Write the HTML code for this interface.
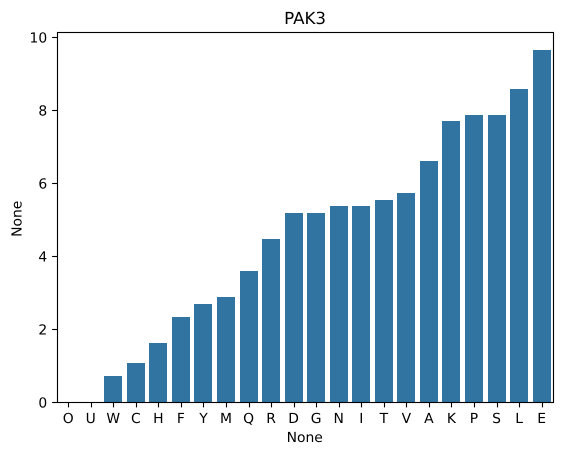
<!DOCTYPE html>
<html>
<head>
<meta charset="utf-8">
<title>PAK3</title>
<style>
html,body{margin:0;padding:0;background:#fff;width:562px;height:455px;overflow:hidden}
svg{display:block}
text{font-family:"DejaVu Sans",sans-serif;fill:#000;text-rendering:geometricPrecision}
</style>
</head>
<body>
<svg id="chart" xmlns="http://www.w3.org/2000/svg" width="562" height="455" viewBox="0 0 562 455">
  <rect x="0" y="0" width="562" height="455" fill="#fff"/>
  <g id="bars"></g>
  <g id="x-ticks"></g>
  <g id="y-ticks"></g>
  <rect x="57.5" y="32.5" width="496" height="370" fill="none" stroke="#000" stroke-width="1.11"/>
  <text x="305.1" y="24" text-anchor="middle" font-size="16.67">PAK3</text>
  <text x="304.7" y="442" text-anchor="middle" font-size="13.89">None</text>
  <text x="0" y="0" transform="translate(21.3 218.8) rotate(-90)" text-anchor="middle" font-size="13.89">None</text>
</svg>
<script>
const categories = ["O","U","W","C","H","F","Y","M","Q","R","D","G","N","I","T","V","A","K","P","S","L","E"];
const values = [0,0,0.71,1.07,1.62,2.33,2.69,2.88,3.59,4.47,5.18,5.18,5.37,5.37,5.54,5.73,6.6,7.7,7.87,7.87,8.58,9.65];
const yTicks = [0,2,4,6,8,10];

const NS = "http://www.w3.org/2000/svg";
const plotLeft = 56.9, plotWidth = 496, plotBottom = 402, plotHeight = 369.6;
const yMax = Math.max(...values) * 1.05;
const xScale = i => plotLeft + (i + 0.5) * plotWidth / categories.length;
const yScale = v => plotBottom - v / yMax * plotHeight;
const barWidth = 0.8 * plotWidth / categories.length;

function make(tag, attrs, parent) {
  const el = document.createElementNS(NS, tag);
  for (const k in attrs) el.setAttribute(k, attrs[k]);
  parent.appendChild(el);
  return el;
}

const barsG = document.getElementById("bars");
const xG = document.getElementById("x-ticks");
const yG = document.getElementById("y-ticks");

categories.forEach((c, i) => {
  const top = Math.round(yScale(values[i]));
  const left = Math.round(xScale(i) - barWidth / 2);
  const right = Math.round(xScale(i) + barWidth / 2);
  const bar = make("rect", {x: left, y: top, width: right - left, height: plotBottom - top, fill: "#3274a1"}, barsG);
  
  

  const tx = Math.round(xScale(i)) + 0.5;
  const tick = make("line", {x1: tx, x2: tx, y1: plotBottom + 0.5, y2: plotBottom + 5.4, stroke: "#000", "stroke-width": 1.11}, xG);
  
  

  const label = make("text", {x: xScale(i), y: 423, "text-anchor": "middle", "font-size": 13.89}, xG);
  label.textContent = c;
  
  
});

yTicks.forEach(t => {
  const y = yScale(t);
  const ty = Math.round(y) + 0.5;
  const tick = make("line", {x1: 52.1, x2: 57.5, y1: ty, y2: ty, stroke: "#000", "stroke-width": 1.11}, yG);
  
  

  const label = make("text", {x: 47.2, y: y + 5.3, "text-anchor": "end", "font-size": 13.89}, yG);
  label.textContent = t;
  
  
});
</script>
</body>
</html>
